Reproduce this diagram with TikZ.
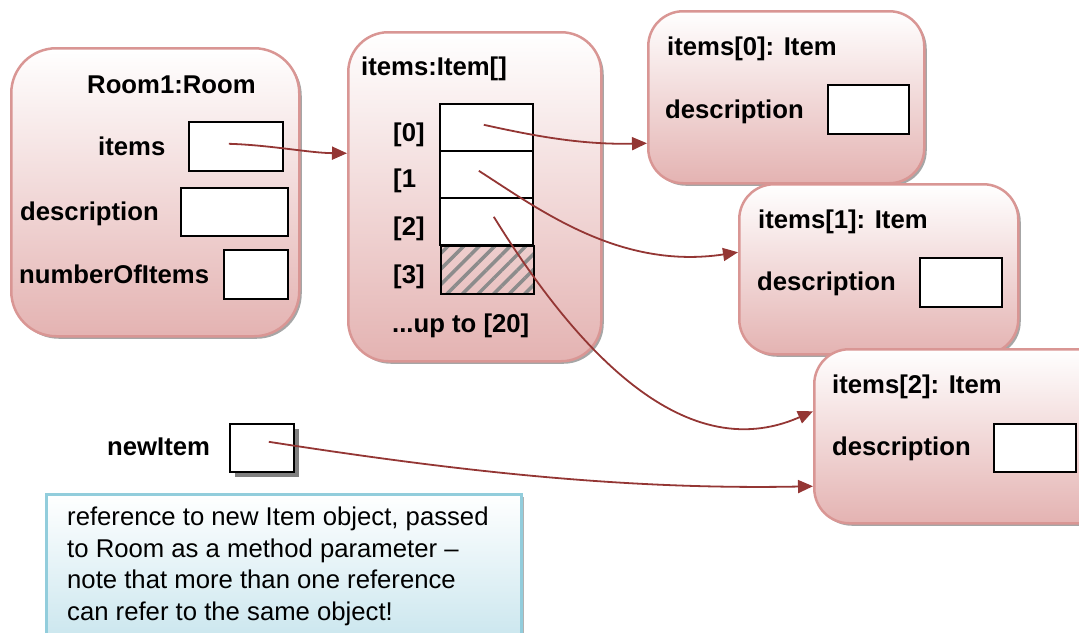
\documentclass[tikz,border=0pt]{standalone}
\usepackage{fontspec}
\setmainfont{Liberation Sans}
\usetikzlibrary{arrows.meta,shadows,patterns.meta}

\definecolor{refred}{HTML}{943634}
\definecolor{objline}{HTML}{D99694}
\definecolor{objlow}{HTML}{E4B3B2}
\definecolor{notelow}{HTML}{B7DDE8}
\definecolor{noteline}{HTML}{92CDDC}

\tikzset{
  objbox/.style={draw=objline, line width=2.5pt, top color=white, bottom color=objlow,
    anchor=north west, inner sep=0pt,
    drop shadow={shadow xshift=2.5pt, shadow yshift=-2.5pt, fill=black, opacity=0.35}},
  notebox/.style={draw=noteline, line width=2.5pt, top color=white, bottom color=notelow,
    anchor=north west, inner sep=0pt,
    drop shadow={shadow xshift=2.5pt, shadow yshift=-2.5pt, fill=black, opacity=0.3}},
  lbl/.style={font=\bfseries\fontsize{25.7}{30}\selectfont, anchor=base west, inner sep=0pt},
  notetext/.style={font=\fontsize{25.7}{31.7}\selectfont, anchor=north west, inner sep=0pt, align=left},
  field/.style={draw=black, line width=1.6pt, fill=white, anchor=north west, inner sep=0pt},
  hatched/.style={field, pattern={Lines[angle=45,distance=11pt,line width=3.5pt]}, pattern color=black!45},
  ref/.style={draw=refred, line width=1.8pt, -{Triangle[length=15pt,width=13pt]}}
}

\begin{document}
\begin{tikzpicture}[x=1pt,y=-1pt]
\clip (0,0) rectangle (1079,632);

% Room object
\node[objbox, rounded corners=45pt, minimum width=288pt, minimum height=288pt] (room) at (10,47) {};
\node[lbl] (roomtitle) at (87,93) {Room1:Room};
\node[lbl] (litems) at (98,155) {items};
\node[lbl] (ldesc) at (20,220) {description};
\node[lbl] (lnum) at (19,283) {numberOfItems};
\node[field, minimum width=94pt, minimum height=49pt] (fitems) at (188,121) {};
\node[field, minimum width=107pt, minimum height=48pt] (fdesc) at (180,187) {};
\node[field, minimum width=64pt, minimum height=49pt] (fnum) at (223,249) {};

% The array object
\node[objbox, rounded corners=40pt, minimum width=253pt, minimum height=329pt] (arr) at (347,31) {};
\node[lbl] (arrtitle) at (361,75) {items:Item[]};
\node[field, minimum width=93pt, minimum height=47pt] (cell0) at (439,103) {};
\node[field, minimum width=93pt, minimum height=47pt] (cell1) at (439,150) {};
\node[field, minimum width=93pt, minimum height=47pt] (cell2) at (439,197) {};
\node[hatched, minimum width=93pt, minimum height=48pt] (cell3) at (439,244) {};
\node[lbl] (i0) at (393,141) {[0]};
\node[lbl] (i1) at (393,187) {[1};
\node[lbl] (i2) at (393,235) {[2]};
\node[lbl] (i3) at (393,283) {[3]};
\node[lbl] (upto) at (392,332) {...up to [20]};

% Item objects
\node[objbox, rounded corners=35pt, minimum width=276pt, minimum height=172pt] (item0) at (647,10) {};
\node[lbl] (t0) at (667,55) {items[0]: Item};
\node[lbl] (d0) at (665,118) {description};
\node[field, minimum width=81pt, minimum height=49pt] (f0) at (827,84) {};

\node[objbox, rounded corners=35pt, minimum width=279pt, minimum height=170pt] (item1) at (738,183) {};
\node[lbl] (t1) at (758,228) {items[1]: Item};
\node[lbl] (d1) at (757,290) {description};
\node[field, minimum width=82pt, minimum height=49pt] (f1) at (919,257) {};

\node[objbox, rounded corners=35pt, minimum width=300pt, minimum height=174pt] (item2) at (813,348) {};
\node[lbl] (t2) at (832,393) {items[2]: Item};
\node[lbl] (d2) at (832,455) {description};
\node[field, minimum width=82pt, minimum height=48pt] (f2) at (993,423) {};

% Local variable
\node[lbl] (lnew) at (107,455) {newItem};
\node[field, minimum width=64pt, minimum height=48pt,
  drop shadow={shadow xshift=5pt, shadow yshift=-5pt, fill=black!50, opacity=1}] (fnew) at (229,423) {};

% Explanatory note
\node[notebox, minimum width=475pt, minimum height=200pt] (note) at (45,493) {};
\node[notetext] (notetxt) at (67,506.5) {reference to new Item object, passed\\to Room as a method parameter –\\note that more than one reference\\can refer to the same object!};

% References
\draw[ref] ([xshift=-7pt,yshift=2.5pt]fitems.center) .. controls (270,145) and (310,153) .. ([yshift=43.5pt]arr.west);
\draw[ref] ([xshift=-2.5pt,yshift=2.5pt]cell0.center) .. controls (530,135) and (580,145) .. ([yshift=-46pt]item0.west);
\draw[ref] ([xshift=-7.5pt,yshift=3.5pt]cell1.center) .. controls (540,210) and (620,270) .. ([yshift=17pt]item1.west);
\draw[ref] ([xshift=7.5pt,yshift=4.5pt]cell2.center) .. controls (570,340) and (680,470) .. ([yshift=25pt]item2.west);
\draw[ref] ([xshift=7pt,yshift=6pt]fnew.center) .. controls (450,470) and (620,490) .. ([yshift=-50pt]item2.west);
\end{tikzpicture}
\end{document}
